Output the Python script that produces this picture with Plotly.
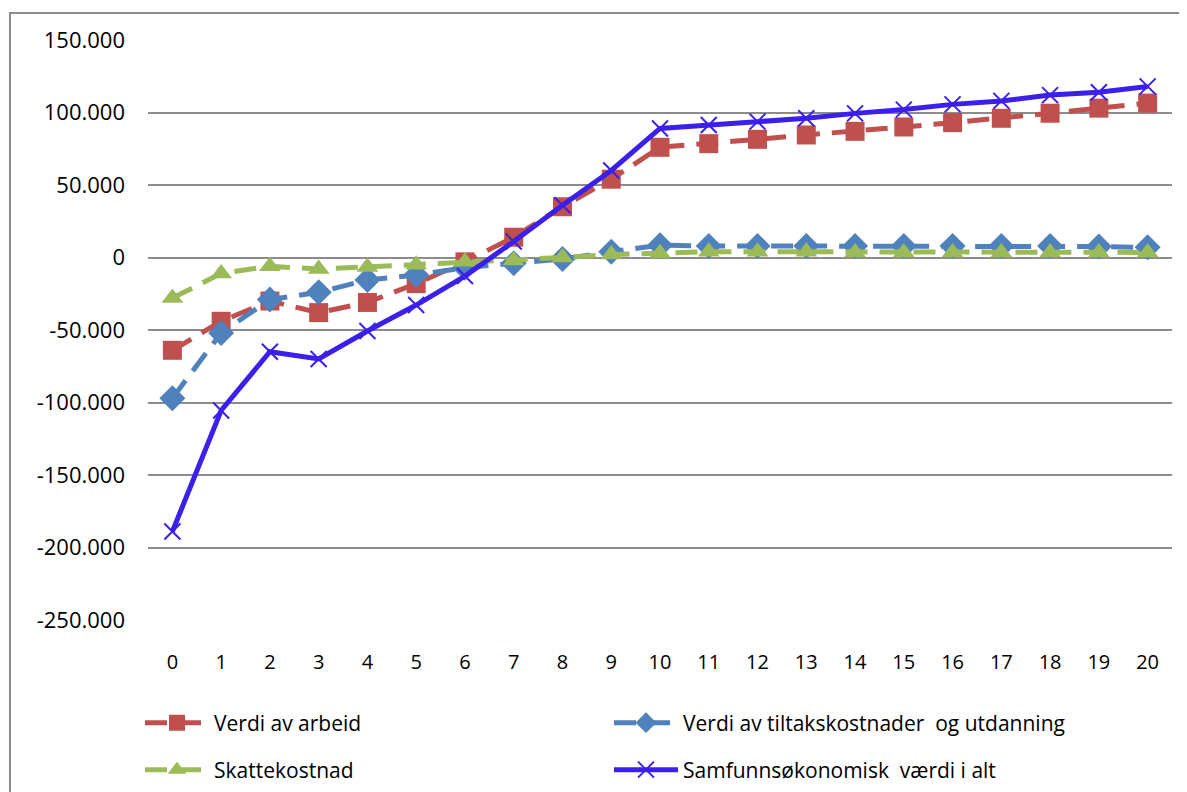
import plotly.graph_objects as go

years = list(range(21))
verdi_arbeid = [-64000, -44000, -30000, -38000, -31000, -18000, -3000, 14000, 35000, 54000,
                76000, 78500, 81500, 84500, 87000, 90000, 93000, 96000, 99500, 103000, 106500]
verdi_tiltak = [-97000, -52000, -29000, -24000, -15500, -12000, -7000, -4000, -1000, 4000,
                8500, 8000, 8000, 8000, 8000, 8000, 8000, 8000, 8000, 7500, 7000]
skattekostnad = [-28000, -11000, -6000, -8000, -6500, -5000, -3000, -2000, 0, 2000,
                 3000, 4000, 4000, 4000, 3500, 3500, 3500, 3500, 3500, 3500, 3500]
samfunn_total = [-189000, -105500, -65000, -70000, -50700, -32800, -12800, 11000, 36000, 60000,
                 89000, 91400, 93700, 96000, 99400, 102000, 105600, 108000, 112000, 114000, 118000]

names = ["Verdi av arbeid", "Verdi av tiltakskostnader  og utdanning",
         "Skattekostnad", "Samfunnsøkonomisk  værdi i alt"]

y_ticks = [-250000, -200000, -150000, -100000, -50000, 0, 50000, 100000, 150000]
y_labels = ["-250.000", "-200.000", "-150.000", "-100.000", "-50.000", "0",
            "50.000", "100.000", "150.000"]

FONT = "Open Sans"

# page body has an 8px margin, so the figure is laid out 8px left/up of screen positions
L, T, PW, PH = 140, 32, 1024, 580

fig = go.Figure()
fig.add_trace(go.Scatter(
    x=years, y=verdi_arbeid, name=names[0], mode="lines+markers", legend="legend",
    line=dict(color="#C0504D", width=5, dash="22px,12px"),
    marker=dict(symbol="square", size=19, color="#C0504D")))
fig.add_trace(go.Scatter(
    x=years, y=verdi_tiltak, name=names[1], mode="lines+markers", legend="legend",
    line=dict(color="#4F81BD", width=5, dash="22px,12px"),
    marker=dict(symbol="diamond", size=20, color="#4F81BD")))
fig.add_trace(go.Scatter(
    x=years, y=skattekostnad, name=names[2], mode="lines+markers", legend="legend2",
    line=dict(color="#9BBB59", width=5, dash="22px,12px"),
    marker=dict(symbol="triangle-up", size=19, color="#9BBB59")))
fig.add_trace(go.Scatter(
    x=years, y=samfunn_total, name=names[3], mode="lines+markers", legend="legend2",
    line=dict(color="#3B1FEB", width=5),
    marker=dict(symbol="x-thin", size=16, line=dict(color="#3B1FEB", width=2))))

leg_common = dict(orientation="h", xanchor="left", yanchor="middle",
                  entrywidth=390, entrywidthmode="pixels",
                  font=dict(family=FONT, size=21), itemwidth=64,
                  traceorder="normal", bgcolor="rgba(0,0,0,0)")

fig.update_layout(
    width=1187, height=792,
    margin=dict(l=L, r=1187 - L - PW, t=T, b=792 - T - PH, autoexpand=False),
    paper_bgcolor="white", plot_bgcolor="white",
    font=dict(family=FONT, size=20, color="black"),
    showlegend=True,
    legend=dict(x=(132 - L) / PW, y=(T + PH - 715) / PH, **leg_common),
    legend2=dict(x=(132 - L) / PW, y=(T + PH - 762) / PH, **leg_common),
    xaxis=dict(range=[-0.5, 20.5], tickmode="array", tickvals=years,
               ticktext=[str(v) for v in years], showgrid=False, zeroline=False,
               showline=False, ticks="", tickfont=dict(size=20), ticklabelstandoff=28),
    yaxis=dict(range=[-250000, 150000], tickmode="array", tickvals=y_ticks,
               ticktext=y_labels, showgrid=True, gridcolor="#8C8C8C", gridwidth=2,
               zeroline=False, showline=False, ticks="", tickfont=dict(size=22),
               ticklabelstandoff=22),
)

fig.add_shape(type="rect", xref="paper", yref="paper",
              x0=(2 - L) / PW, x1=(1200 - L) / PW,
              y0=(T + PH - 800) / PH, y1=(T + PH - 5) / PH,
              line=dict(color="#8C8C8C", width=2), fillcolor="rgba(0,0,0,0)", layer="below")

fig.write_html("out.html")
